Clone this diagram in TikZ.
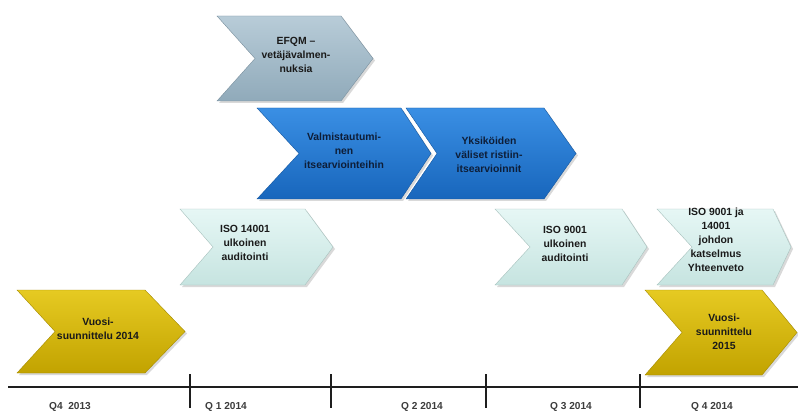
\documentclass[tikz,border=0pt]{standalone}
\usepackage{fontspec}
\setmainfont{Liberation Sans}
\usetikzlibrary{shadows}
\definecolor{yelTop}{HTML}{E6CA22}
\definecolor{yelMid}{HTML}{D7B602}
\definecolor{yelBot}{HTML}{C2A300}
\definecolor{bluTop}{HTML}{3A8FE4}
\definecolor{bluMid}{HTML}{1F78D4}
\definecolor{bluBot}{HTML}{1866BC}
\definecolor{cyaTop}{HTML}{E6F7F5}
\definecolor{cyaMid}{HTML}{D8F0ED}
\definecolor{cyaBot}{HTML}{C6E4E0}
\definecolor{gryTop}{HTML}{B8CCD8}
\definecolor{gryMid}{HTML}{A5BDCB}
\definecolor{gryBot}{HTML}{90AABA}
\definecolor{txtDark}{HTML}{1A1A1A}
\definecolor{txtNavy}{HTML}{0E1E38}
\definecolor{axisCol}{HTML}{1E1E1E}
\newcommand\chevshape[7]{%
  \path[#7] (#1,#3) -- ({#2-#6},#3) -- (#2,{(#3+#4)/2}) -- ({#2-#6},#4) -- (#1,#4) -- ({#1+#5},{(#3+#4)/2}) -- cycle;}
\tikzset{
  chevbase/.style={drop shadow={shadow xshift=1.5pt,shadow yshift=-1.5pt,opacity=0.3}},
  chevY/.style={chevbase,top color=yelTop,middle color=yelMid,bottom color=yelBot,draw=yelBot!85!black,line width=0.3pt},
  chevB/.style={chevbase,top color=bluTop,middle color=bluMid,bottom color=bluBot,draw=bluBot!85!black,line width=0.3pt},
  chevC/.style={chevbase,top color=cyaTop,middle color=cyaMid,bottom color=cyaBot,draw=cyaBot!85!black,line width=0.3pt},
  chevG/.style={chevbase,top color=gryTop,middle color=gryMid,bottom color=gryBot,draw=gryBot!85!black,line width=0.3pt},
  lbl/.style={align=center,inner sep=0pt,text=txtDark,font=\fontsize{7.8}{10.4}\selectfont\bfseries},
  lblB/.style={lbl,text=txtNavy},
  qlbl/.style={inner sep=0pt,text=txtDark!85!white,font=\fontsize{7.6}{9}\selectfont\bfseries},
  axisline/.style={draw=axisCol,line width=1.2pt},
  tickline/.style={draw=axisCol,line width=1.1pt}
}
\begin{document}
\begin{tikzpicture}[x=0.75pt,y=-0.75pt]
\useasboundingbox (0,0) rectangle (798,413);
% shapes
\chevshape{217}{373}{16}{101}{38}{32}{chevG}
\chevshape{257}{431}{108}{199}{42}{30}{chevB}
\chevshape{406}{576}{108}{199}{31}{32}{chevB}
\chevshape{180}{333}{209}{285}{33}{28}{chevC}
\chevshape{495}{647}{209}{285}{35}{25}{chevC}
\chevshape{657}{791}{209}{285}{35}{18}{chevC}
\chevshape{17}{185}{290}{373}{38}{40}{chevY}
\chevshape{645}{797}{290}{375}{37}{35}{chevY}
% texts
\node[lbl] (efqm) at (296,55) {EFQM –\\vetäjävalmen-\\nuksia};
\node[lblB] (valm) at (344,151) {Valmistautumi-\\nen\\itsearviointeihin};
\node[lblB] (yks) at (489,155) {Yksiköiden\\väliset ristiin-\\itsearvioinnit};
\node[lbl] (iso14) at (245,243) {ISO  14001\\ulkoinen\\auditointi};
\node[lbl] (iso9) at (565,244) {ISO 9001\\ulkoinen\\auditointi};
\node[lbl] (isoja) at (716,240) {ISO 9001 ja\\14001\\johdon\\katselmus\\Yhteenveto};
\node[lbl] (vuo14) at (98,329) {Vuosi-\\suunnittelu 2014};
\node[lbl] (vuo15) at (724,332) {Vuosi-\\suunnittelu\\2015};
% timeline
\coordinate (ax0) at (8,387);
\coordinate (ax1) at (798,387);
\draw[axisline] (ax0) -- (ax1);
\coordinate (t1a) at (190,374); \coordinate (t1b) at (190,408);
\coordinate (t2a) at (331,374); \coordinate (t2b) at (331,408);
\coordinate (t3a) at (486,374); \coordinate (t3b) at (486,408);
\coordinate (t4a) at (640,374); \coordinate (t4b) at (640,408);
\draw[tickline] (t1a) -- (t1b);
\draw[tickline] (t2a) -- (t2b);
\draw[tickline] (t3a) -- (t3b);
\draw[tickline] (t4a) -- (t4b);
\node[qlbl] (q0) at (70,407) {Q4\ \ 2013};
\node[qlbl] (q1) at (226,407) {Q 1 2014};
\node[qlbl] (q2) at (422,407) {Q 2 2014};
\node[qlbl] (q3) at (571,407) {Q 3 2014};
\node[qlbl] (q4) at (712,407) {Q 4 2014};
\end{tikzpicture}
\end{document}
